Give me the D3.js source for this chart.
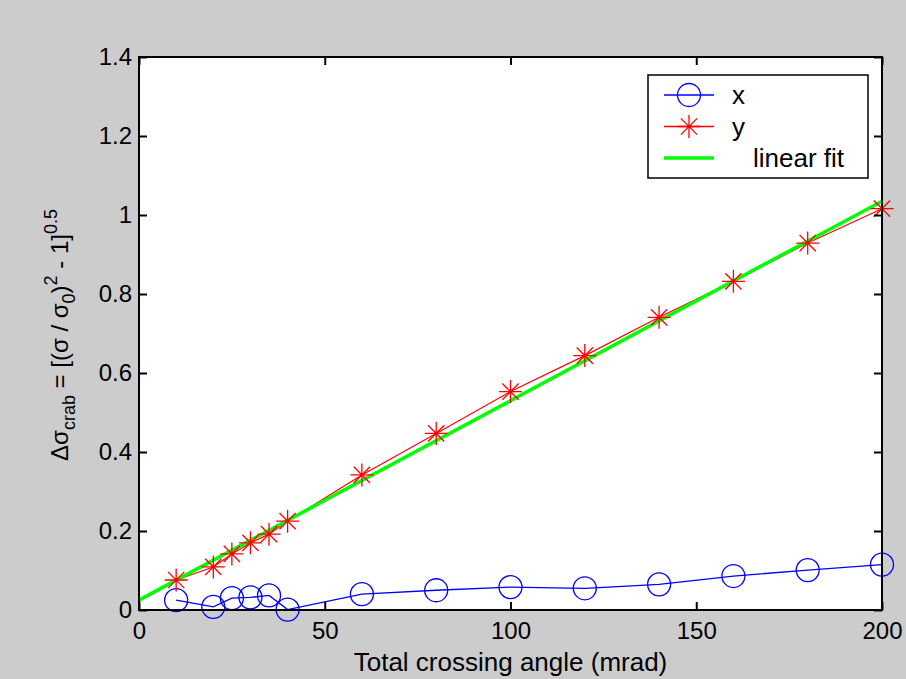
<!DOCTYPE html>
<meta charset="utf-8">
<html>
    <head>
        <style>
            html, body {
                margin: 0;
                padding: 0;
                background: #cccccc;
            }

            svg text {
                font-family: "Liberation Sans", Arial, sans-serif;
                fill: #000;
            }

            .tick text {
                font-size: 24px;
            }
        </style>
    </head>
    <body>
        <svg width="906" height="679"></svg>

        <script src="https://cdn.jsdelivr.net/npm/d3@7"></script>
        <script>
            // crossing angle (mrad)
            var angles = [10, 20, 25, 30, 35, 40, 60, 80, 100, 120, 140, 160, 180, 200];
            var xSeries = [0.025, 0.008, 0.03, 0.032, 0.037, 0.001, 0.04, 0.05, 0.058, 0.055, 0.065, 0.086, 0.101, 0.115];
            var ySeries = [0.076, 0.109, 0.142, 0.17, 0.192, 0.225, 0.342, 0.447, 0.553, 0.644, 0.741, 0.832, 0.929, 1.016];
            var fitAngles = [0, 200];
            var fitValues = [0.025, 1.035];
            var xTicks = [0, 50, 100, 150, 200];
            var yTicks = [0, 0.2, 0.4, 0.6, 0.8, 1, 1.2, 1.4];

            var svg = d3.select("svg");
            var pLeft = 139, pRight = 882, pTop = 57, pBottom = 610;

            var x = d3.scaleLinear().domain([0, 200]).range([pLeft, pRight]);
            var y = d3.scaleLinear().domain([0, 1.4]).range([pBottom, pTop]);

            svg.append('rect')
                .attr('width', 906).attr('height', 679)
                .attr('fill', '#cccccc');

            svg.append('rect')
                .attr('x', pLeft).attr('y', pTop)
                .attr('width', pRight - pLeft).attr('height', pBottom - pTop)
                .attr('fill', '#fff');

            var plot = svg.append('g');

            var line = d3.line()
                .x(function (d) { return x(d[0]); })
                .y(function (d) { return y(d[1]); });

            var xData = angles.map(function (a, i) { return [a, xSeries[i]]; });
            var yData = angles.map(function (a, i) { return [a, ySeries[i]]; });
            var fitData = fitAngles.map(function (a, i) { return [a, fitValues[i]]; });

            // x series: blue, circles
            plot.append('path')
                .datum(xData)
                .attr('d', line)
                .attr('fill', 'none')
                .attr('stroke', '#0000ff')
                .attr('stroke-width', 1.3);

            plot.selectAll('circle.xm')
                .data(xData)
                .enter()
                    .append('circle')
                    .classed('xm', true)
                    .attr('cx', function (d) { return x(d[0]); })
                    .attr('cy', function (d) { return y(d[1]); })
                    .attr('r', 11.5)
                    .attr('fill', 'none')
                    .attr('stroke', '#0000ff')
                    .attr('stroke-width', 1.3);

            // y series: red, asterisks
            plot.append('path')
                .datum(yData)
                .attr('d', line)
                .attr('fill', 'none')
                .attr('stroke', '#ff0000')
                .attr('stroke-width', 1.2);

            function star(s) {
                var d = s * 0.707;
                return 'M' + (-s) + ',0L' + s + ',0' +
                    'M0,' + (-s) + 'L0,' + s +
                    'M' + (-d) + ',' + (-d) + 'L' + d + ',' + d +
                    'M' + (-d) + ',' + d + 'L' + d + ',' + (-d);
            }

            // fit line
            plot.append('path')
                .datum(fitData)
                .attr('d', line)
                .attr('fill', 'none')
                .attr('stroke', '#00ff00')
                .attr('stroke-width', 3.5);

            plot.selectAll('path.ym')
                .data(yData)
                .enter()
                    .append('path')
                    .classed('ym', true)
                    .attr('transform', function (d) { return 'translate(' + x(d[0]) + ',' + y(d[1]) + ')'; })
                    .attr('d', star(11.5))
                    .attr('fill', 'none')
                    .attr('stroke', '#ff0000')
                    .attr('stroke-width', 1.3);

            // axes, ticks inside on all sides
            var xAxis = svg.append('g')
                .attr('transform', 'translate(0,' + pBottom + ')')
                .call(d3.axisBottom(x).tickValues(xTicks).tickSize(-8).tickPadding(12).tickFormat(d3.format('d')));
            var yAxis = svg.append('g')
                .attr('transform', 'translate(' + pLeft + ',0)')
                .call(d3.axisLeft(y).tickValues(yTicks).tickSize(-8).tickPadding(7).tickFormat(function (d) { return String(+d.toFixed(1)); }));
            var xTop = svg.append('g')
                .attr('transform', 'translate(0,' + pTop + ')')
                .call(d3.axisTop(x).tickValues(xTicks).tickSize(-8).tickFormat(''));
            var yRight = svg.append('g')
                .attr('transform', 'translate(' + pRight + ',0)')
                .call(d3.axisRight(y).tickValues(yTicks).tickSize(-8).tickFormat(''));

            [xAxis, yAxis, xTop, yRight].forEach(function (a) {
                a.select('.domain').remove();
                a.selectAll('.tick line').attr('stroke', '#000').attr('stroke-width', 2);
            });

            svg.append('rect')
                .attr('x', pLeft).attr('y', pTop)
                .attr('width', pRight - pLeft).attr('height', pBottom - pTop)
                .attr('fill', 'none')
                .attr('stroke', '#000')
                .attr('stroke-width', 2);

            // axis labels
            svg.append('text')
                .attr('x', (pLeft + pRight) / 2)
                .attr('y', 671)
                .attr('text-anchor', 'middle')
                .style('font-size', '26px')
                .text('Total crossing angle (mrad)');

            var ylab = svg.append('text')
                .attr('transform', 'translate(68,' + 335 + ') rotate(-90)')
                .attr('text-anchor', 'middle')
                .style('font-size', '24px');
            ylab.append('tspan').text('\u0394\u03c3');
            ylab.append('tspan').attr('dy', 7).style('font-size', '18px').text('crab');
            ylab.append('tspan').attr('dy', -7).text(' = [(\u03c3 / \u03c3');
            ylab.append('tspan').attr('dy', 7).style('font-size', '18px').text('0');
            ylab.append('tspan').attr('dy', -7).text(')');
            ylab.append('tspan').attr('dy', -11).style('font-size', '18px').text('2');
            ylab.append('tspan').attr('dy', 11).text(' - 1]');
            ylab.append('tspan').attr('dy', -11).style('font-size', '18px').text('0.5');

            // legend
            var legend = svg.append('g');
            legend.append('rect')
                .attr('x', 648).attr('y', 75)
                .attr('width', 220).attr('height', 103)
                .attr('fill', '#fff')
                .attr('stroke', '#000')
                .attr('stroke-width', 1.5);

            var items = [
                {name: 'x', color: '#0000ff', marker: 'circle', width: 1.3, tx: 732},
                {name: 'y', color: '#ff0000', marker: 'star', width: 1.3, tx: 732},
                {name: 'linear fit', color: '#00ff00', marker: null, width: 3.5, tx: 753}
            ];
            var row = legend.selectAll('g.item')
                .data(items)
                .enter()
                    .append('g')
                    .classed('item', true)
                    .attr('transform', function (d, i) { return 'translate(0,' + (95 + i * 31.5) + ')'; });

            row.append('line')
                .attr('x1', 664).attr('x2', 714)
                .attr('stroke', function (d) { return d.color; })
                .attr('stroke-width', function (d) { return d.width; });

            row.filter(function (d) { return d.marker === 'circle'; })
                .append('circle')
                .attr('cx', 689).attr('r', 11.5)
                .attr('fill', 'none')
                .attr('stroke', function (d) { return d.color; })
                .attr('stroke-width', 1.3);

            row.filter(function (d) { return d.marker === 'star'; })
                .append('path')
                .attr('transform', 'translate(689,0)')
                .attr('d', star(11.5))
                .attr('fill', 'none')
                .attr('stroke', function (d) { return d.color; })
                .attr('stroke-width', 1.3);

            row.append('text')
                .attr('x', function (d) { return d.tx; })
                .attr('y', 9)
                .style('font-size', '26px')
                .text(function (d) { return d.name; });
        </script>
    </body>
</html>
